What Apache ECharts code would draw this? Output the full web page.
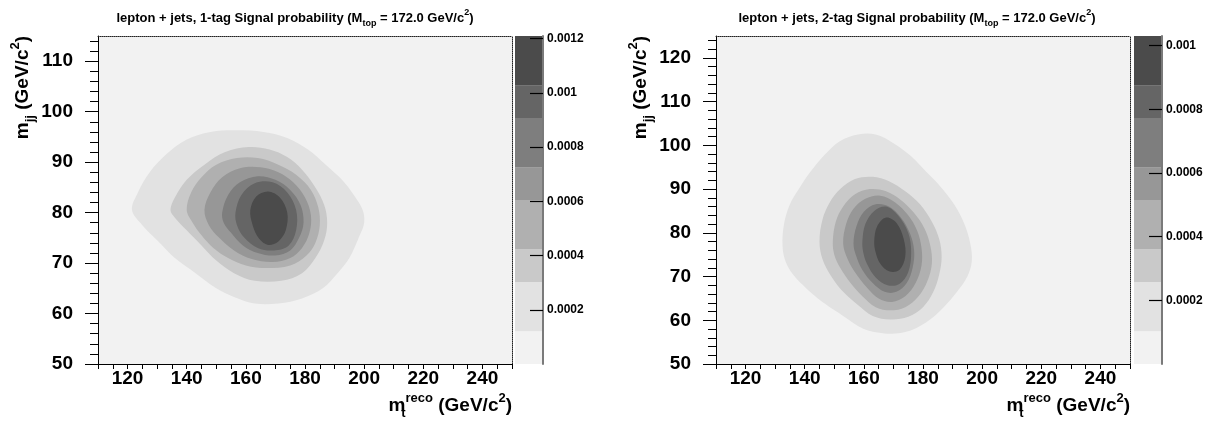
<!DOCTYPE html>
<html>
<head>
<meta charset="utf-8">
<script src="https://cdn.jsdelivr.net/npm/echarts@6/dist/echarts.min.js"></script>
<style>
html, body { margin: 0; padding: 0; background: #ffffff; }
#chart { width: 1214px; height: 422px; }
</style>
</head>
<body>
<div id="chart"></div>
<script>
// ---- axis ticks and labels ----
const xTickLabels = [120, 140, 160, 180, 200, 220, 240];
const oneTagYTicks = [50, 60, 70, 80, 90, 100, 110];
const twoTagYTicks = [50, 60, 70, 80, 90, 100, 110, 120];
const oneTagZTicks = [0.0002, 0.0004, 0.0006, 0.0008, 0.001, 0.0012];
const twoTagZTicks = [0.0002, 0.0004, 0.0006, 0.0008, 0.001];

// ---- probability scale (z) ----
const oneTagZMax = 0.00121;
const twoTagZMax = 0.00103;
// contour levels, lowest to highest
const oneTagLevels = [0.000121, 0.0003025, 0.0004235, 0.000605, 0.000726, 0.0009075, 0.0010285];
const twoTagLevels = [0.000103, 0.0002575, 0.0003605, 0.000515, 0.000618, 0.0007725, 0.0008755];

// ---- iso-probability outlines [m_t^reco, m_jj], one per level ----
const oneTagContours = [
  [[121.5, 80.5], [123.5, 84], [127.5, 88], [133, 91.5], [140, 94.5], [148, 96], [157, 96.3], [166, 96], [174, 94.8], [181, 92.5], [187, 89.5], [192.5, 86.5], [196.5, 83.5], [199.5, 80.5], [200, 78], [198.5, 75.5], [195, 71], [191, 68], [186, 65], [179, 63], [171, 62], [163, 62], [156, 63.3], [150, 65], [143, 68], [136, 71], [130, 74.5], [125, 77.5]],
  [[134.5, 80.5], [136, 83], [140, 86.5], [146, 89.5], [153, 92], [161, 93], [168, 92.5], [174, 91], [179, 88.5], [183.5, 85], [186.5, 81.5], [187.5, 78], [186.5, 74.5], [183.5, 71], [179, 68], [172, 66.5], [163, 66.5], [156, 68], [150, 70.5], [145, 73.5], [140, 76.5], [136, 79]],
  [[140, 80.5], [141.5, 84], [145, 87], [150, 89.5], [157, 90.8], [164, 90.8], [171, 89.5], [177, 87.5], [182, 84.5], [184.5, 81], [185, 77.5], [183.5, 74], [180.5, 71.5], [175, 69.5], [167, 69], [160, 69.5], [154, 71], [149, 73], [145, 75.5], [142, 78]],
  [[146, 80.5], [148, 84], [152, 87], [158, 88.8], [165, 89], [171, 88], [176, 86], [180, 83], [182, 79.5], [181.5, 76], [179, 73], [175, 71], [169, 70.2], [162, 70.8], [156, 72.5], [151, 75], [147.5, 77.5]],
  [[152, 80], [154, 83.5], [158, 86], [164, 87.2], [170, 86.5], [175, 84.5], [178.5, 81.5], [179.5, 78], [178, 75], [175, 72.5], [170, 71.5], [164, 72], [159, 73.5], [155, 76], [152.5, 78]],
  [[156.5, 80], [158.5, 83.5], [163, 85.8], [169, 86], [174, 84], [177, 80.5], [177, 76.5], [174.5, 73.5], [169.5, 72.5], [164, 73], [159.5, 75], [157, 77.5]],
  [[161.5, 80.5], [163.5, 83.2], [167.5, 84.2], [171.5, 83], [174, 80], [173.5, 76.5], [171, 74.3], [167.5, 73.6], [164.5, 74.8], [162.3, 77.5]]
];
const twoTagContours = [
  [[132.5, 77], [133, 82], [135, 86.5], [138, 90], [142, 94], [147, 98], [152, 101], [158, 102.5], [164, 102.5], [170, 100.5], [176, 97.5], [181, 94], [186, 90.5], [190.5, 86.5], [194, 82], [196, 77.5], [196.5, 73.5], [195, 70], [191.5, 66.5], [187, 63], [181, 59.5], [174, 57.3], [167, 57], [160, 58], [153, 61], [147, 63.7], [141, 67], [136, 70.5], [133.5, 73.5]],
  [[145, 78], [146, 83], [148.5, 87], [152, 90], [157, 92.3], [163, 92.8], [168.5, 91.8], [174, 89.5], [179, 86.5], [183, 82.5], [185.5, 78.5], [186.3, 74.5], [185.5, 70.5], [183.5, 66.5], [180, 63], [175, 60.8], [169, 60.2], [163, 61], [158, 63.5], [153, 66.5], [149, 70], [146, 74]],
  [[149.5, 78], [150.5, 82.5], [153, 86], [157, 88.8], [162, 90], [167.5, 89.5], [172.5, 87.5], [177, 84.5], [180.5, 81], [182.5, 77], [183, 73], [181.5, 69], [178.5, 65.5], [174, 63], [169, 62.3], [164, 63], [159.5, 65.5], [155.5, 68.5], [152, 72], [150, 75]],
  [[153, 77.5], [154, 82], [156.5, 85.5], [160.5, 87.8], [165.5, 88.5], [170.5, 87], [175, 84], [178, 80.5], [179.5, 76.5], [179.5, 72.5], [177.5, 68.5], [174, 65.5], [169.5, 64.2], [165, 65], [161, 67.5], [157, 71], [154.5, 74]],
  [[156.5, 77.5], [157.5, 81.5], [160, 84.8], [164, 86.5], [168.5, 86], [172.5, 83.5], [175.5, 80], [177, 76], [176.5, 72], [174.5, 68.5], [171, 66.5], [167, 66.5], [163, 68.5], [159.5, 71.5], [157.5, 74.5]],
  [[159.5, 78], [160.5, 82], [163.5, 85], [167.5, 86], [171.5, 84], [175, 80], [176, 75.5], [175, 71], [172, 68.3], [168, 68], [164, 69.8], [161, 73], [159.8, 75.5]],
  [[163.5, 78], [164.5, 81.5], [167.5, 83.5], [171, 82.3], [173.5, 78.5], [174, 74.5], [172, 71.5], [168.5, 71.2], [165.5, 73], [164, 75.5]]
];

// ---- styling ----
const FONT = "'Liberation Sans', Arial, Helvetica, sans-serif";
const SHADES = ['#f2f2f2', '#e2e2e2', '#c9c9c9', '#b0b0b0', '#979797', '#7e7e7e', '#656565', '#4b4b4b'];
const PLOT_TOP = 36, PLOT_H = 328, PLOT_W = 414, BAR_W = 28;

const titleRich = {
  b:   { fontFamily: FONT, fontWeight: 'bold', fontSize: 13, color: '#000', lineHeight: 20, verticalAlign: 'middle' },
  sub: { fontFamily: FONT, fontWeight: 'bold', fontSize: 9, color: '#000', lineHeight: 9, verticalAlign: 'bottom' },
  sup: { fontFamily: FONT, fontWeight: 'bold', fontSize: 9, color: '#000', lineHeight: 9, verticalAlign: 'top' }
};
const axisRich = {
  b:    { fontFamily: FONT, fontWeight: 'bold', fontSize: 19, color: '#000', lineHeight: 28, verticalAlign: 'middle' },
  sub:  { fontFamily: FONT, fontWeight: 'bold', fontSize: 13, color: '#000', lineHeight: 13, verticalAlign: 'bottom' },
  subz: { fontFamily: FONT, fontWeight: 'bold', fontSize: 13, color: '#000', lineHeight: 13, verticalAlign: 'bottom', width: 0.1 },
  sup:  { fontFamily: FONT, fontWeight: 'bold', fontSize: 13, color: '#000', lineHeight: 13, verticalAlign: 'top' }
};
const tickFont = { color: '#000', fontFamily: FONT, fontWeight: 'bold', fontSize: 19 };

function range(from, to, step) {
  const out = [];
  for (let v = from; v <= to + 1e-9; v += step) out.push(Math.round(v * 1000) / 1000);
  return out;
}

const grid = [], xAxis = [], yAxis = [], series = [], graphic = [], title = [];

function addPanel(p) {
  const gPlot = grid.length;
  grid.push({ left: p.plotLeft, top: PLOT_TOP, width: PLOT_W, height: PLOT_H, show: true, backgroundColor: SHADES[0], borderWidth: 0 });
  const gBar = grid.length;
  grid.push({ left: p.barLeft, top: PLOT_TOP, width: BAR_W, height: PLOT_H, show: false });

  // plot axes
  const xMain = xAxis.length;
  xAxis.push({
    gridIndex: gPlot, type: 'value', position: 'bottom', min: 110, max: 250, interval: 5,
    axisLine: { onZero: false, lineStyle: { color: '#000', width: 1 } },
    axisTick: { length: 5, lineStyle: { color: '#000' } },
    axisLabel: Object.assign({ customValues: xTickLabels, margin: 5 }, tickFont),
    splitLine: { show: false }
  });
  xAxis.push({
    gridIndex: gPlot, type: 'value', position: 'top', min: 110, max: 250,
    axisLine: { onZero: false, lineStyle: { color: '#222', width: 1, type: 'dotted' } },
    axisTick: { show: false }, axisLabel: { show: false }, splitLine: { show: false }
  });
  const yMain = yAxis.length;
  yAxis.push({
    gridIndex: gPlot, type: 'value', position: 'left', min: 50, max: p.yMax, interval: 10,
    axisLine: { onZero: false, lineStyle: { color: '#000', width: 1 } },
    axisTick: { customValues: p.yTicks, length: 13, lineStyle: { color: '#000' } },
    axisLabel: Object.assign({ customValues: p.yTicks, margin: 25 }, tickFont),
    splitLine: { show: false }
  });
  yAxis.push({
    gridIndex: gPlot, type: 'value', position: 'left', min: 50, max: p.yMax,
    axisLine: { show: false },
    axisTick: { customValues: range(50, p.yMax - 1, 2), length: 8, lineStyle: { color: '#000' } },
    axisLabel: { show: false }, splitLine: { show: false }
  });
  yAxis.push({
    gridIndex: gPlot, type: 'value', position: 'right', min: 50, max: p.yMax,
    axisLine: { onZero: false, lineStyle: { color: '#222', width: 1, type: 'dotted' } },
    axisTick: { show: false }, axisLabel: { show: false }, splitLine: { show: false }
  });

  // colour-bar axes (drawn above the bands so the inward ticks show)
  const xBar = xAxis.length;
  xAxis.push({ gridIndex: gBar, type: 'value', min: 0, max: 1, show: false });
  const yBar = yAxis.length;
  yAxis.push({
    gridIndex: gBar, type: 'value', position: 'right', min: 0, max: p.zMax, z: 10,
    axisLine: { show: true, onZero: false, lineStyle: { color: '#7a7a7a', width: 2 } },
    axisTick: { inside: true, customValues: p.zTicks, length: 13, lineStyle: { color: '#000', width: 1.2 } },
    axisLabel: { customValues: p.zTicks, margin: 4, formatter: v => String(v), color: '#000', fontFamily: FONT, fontWeight: 'bold', fontSize: 12 },
    splitLine: { show: false }
  });

  // filled iso-probability regions
  series.push({
    type: 'custom', xAxisIndex: xMain, yAxisIndex: yMain, clip: true, z: 1,
    data: p.levels.map((v, i) => [i, v]),
    renderItem: (params, api) => {
      const pts = p.contours[params.dataIndex].map(pt => api.coord(pt));
      return { type: 'polygon', shape: { points: pts, smooth: 0.35 }, style: { fill: SHADES[params.dataIndex + 1] } };
    },
    silent: true
  });

  // colour bar bands between consecutive levels
  const bounds = [0].concat(p.levels, [p.zMax]);
  const bands = [];
  for (let i = 0; i < bounds.length - 1; i++) bands.push([bounds[i], bounds[i + 1]]);
  series.push({
    type: 'custom', xAxisIndex: xBar, yAxisIndex: yBar, z: 1,
    data: bands,
    renderItem: (params, api) => {
      const top = api.coord([0, api.value(1)]);
      const bot = api.coord([1, api.value(0)]);
      return { type: 'rect', shape: { x: top[0], y: top[1], width: bot[0] - top[0], height: bot[1] - top[1] }, style: { fill: SHADES[params.dataIndex] } };
    },
    silent: true
  });

  title.push({
    left: p.titleX, top: 3, textAlign: 'center',
    text: '{b|lepton + jets, ' + p.tag + ' Signal probability (M}{sub|top}{b| = 172.0 GeV/c}{sup|2}{b|)}',
    textStyle: { rich: titleRich }
  });

  graphic.push({
    type: 'text', x: p.plotLeft - 75, y: PLOT_TOP, rotation: Math.PI / 2,
    style: { text: '{b|m}{sub|jj}{b| (GeV/c}{sup|2}{b|)}', rich: axisRich, align: 'right', verticalAlign: 'middle' }
  });
  graphic.push({
    type: 'text', x: p.plotLeft + PLOT_W, y: 406,
    style: { text: '{b|m}{subz|t}{sup|reco}{b| (GeV/c}{sup|2}{b|)}', rich: axisRich, align: 'right', verticalAlign: 'middle' }
  });
}

addPanel({ tag: '1-tag', plotLeft: 98, barLeft: 515, titleX: 290, yMax: 115, yTicks: oneTagYTicks,
           zMax: oneTagZMax, zTicks: oneTagZTicks, levels: oneTagLevels, contours: oneTagContours });
addPanel({ tag: '2-tag', plotLeft: 716, barLeft: 1134, titleX: 912, yMax: 125, yTicks: twoTagYTicks,
           zMax: twoTagZMax, zTicks: twoTagZTicks, levels: twoTagLevels, contours: twoTagContours });

const chart = echarts.init(document.getElementById('chart'), null, { renderer: 'canvas' });
chart.setOption({
  animation: false,
  backgroundColor: '#ffffff',
  title, grid, xAxis, yAxis, series, graphic
});
</script>
</body>
</html>
